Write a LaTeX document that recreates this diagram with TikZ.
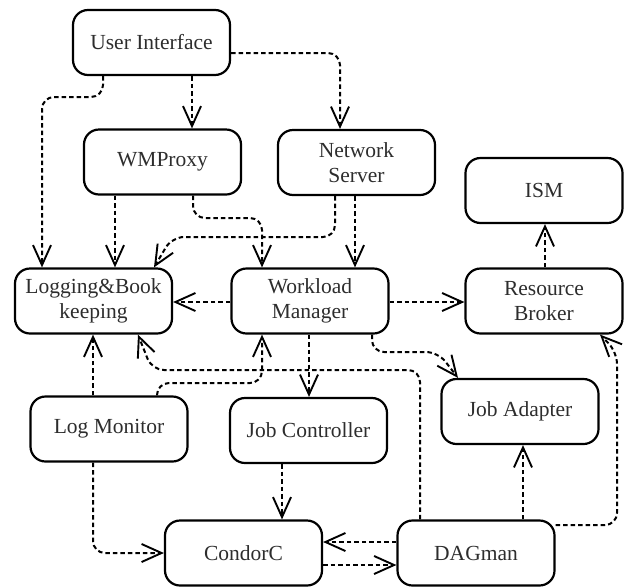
\documentclass[tikz,border=0pt]{standalone}
\usepackage{fontspec}
\setmainfont{Liberation Serif}
\usetikzlibrary{arrows.meta}
\definecolor{txt}{RGB}{45,45,45}
\tikzset{
  box/.style={draw, line width=2.2pt, rounded corners=15pt, minimum width=157pt,
    minimum height=65pt, inner sep=0pt, align=center, text=txt,
    font=\fontsize{21.5}{25}\selectfont},
  conn/.style={line width=2pt, dash pattern=on 4.5pt off 3pt, rounded corners=12pt,
    -{Straight Barb[length=20pt,width=18pt,line width=1.9pt]}},
}
\begin{document}
\begin{tikzpicture}[x=1pt,y=-1pt]
\useasboundingbox (0,0) rectangle (628,587);
\node[box] (ui)  at (151.5,42.5) {User Interface};
\node[box] (wmp) at (162.5,162) {WMProxy};
\node[box] (ns)  at (356.5,162.5) {Network\\Server};
\node[box] (ism) at (544,190.5) {ISM};
\node[box] (lb)  at (93.5,301) {Logging\&Book\\keeping};
\node[box] (wm)  at (310,301) {Workload\\Manager};
\node[box] (rb)  at (544,301) {Resource\\Broker};
\node[box] (lm)  at (109,429) {Log Monitor};
\node[box] (jc)  at (308.5,430.5) {Job Controller};
\node[box] (ja)  at (520,411.5) {Job Adapter};
\node[box] (cc)  at (243.5,553) {CondorC};
\node[box] (dag) at (476,553) {DAGman};

\draw[conn] (ui.south -| 192,0) -- (wmp.north -| 192,0);
\draw[conn] (ui.south -| 103,0) -- (103,97) -- (42,97) -- (lb.north -| 42,0);
\draw[conn] (ui.east |- 0,53) -- (340,53) -- (ns.north -| 340,0);
\draw[conn] (wmp.south -| 115,0) -- (lb.north -| 115,0);
\draw[conn] (wmp.south -| 193,0) -- (193,218) -- (262,218) -- (wm.north -| 262,0);
\draw[conn] (ns.south -| 335,0) -- (335,237) -- (172,237) -- (lb.north -| 154,0);
\draw[conn] (ns.south -| 355,0) -- (wm.north -| 355,0);
\draw[conn] (wm.west |- 0,302) -- (lb.east |- 0,302);
\draw[conn] (wm.east |- 0,302) -- (rb.west |- 0,302);
\draw[conn] (rb.north -| 545,0) -- (ism.south -| 545,0);
\draw[conn] (wm.south -| 309,0) -- (jc.north -| 309,0);
\draw[conn] (wm.south -| 372,0) -- (372,352) -- (438,352) -- (ja.north -| 458,0);
\draw[conn] (lm.north -| 93,0) -- (lb.south -| 93,0);
\draw[conn] (lm.north -| 157,0) -- (157,383) -- (262,383) -- (wm.south -| 262,0);
\draw[conn] (dag.north -| 420,0) -- (420,370) -- (152,370) -- (lb.south -| 138,0);
\draw[conn] (dag.east |- 0,525) -- (617,525) -- (617,352) -- (rb.south -| 600,0);
\draw[conn] (dag.north -| 523,0) -- (ja.south -| 523,0);
\draw[conn] (jc.south -| 282,0) -- (cc.north -| 282,0);
\draw[conn] (lm.south -| 93,0) -- (93,553) -- (cc.west |- 0,553);
\draw[conn] (dag.west |- 0,542) -- (cc.east |- 0,542);
\draw[conn] (cc.east |- 0,565) -- (dag.west |- 0,565);
\end{tikzpicture}
\end{document}
